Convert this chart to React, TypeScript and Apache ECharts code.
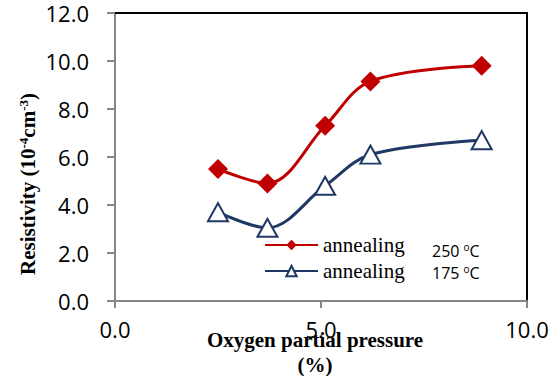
import React, { useEffect, useRef } from "react";
import * as echarts from "echarts";

const oxygenPressure = [2.5, 3.7, 5.1, 6.2, 8.9];
const resistivity250 = [5.5, 4.9, 7.3, 9.15, 9.8];
const resistivity175 = [3.7, 3.05, 4.8, 6.1, 6.7];
const seriesNames = ["annealing 250", "annealing 175"];
const temperatureLabels = ["250 ", "175 "];

const SERIF = '"Liberation Serif", "Times New Roman", serif';
const SANS = '"Open Sans", "Liberation Sans", sans-serif';

export default function App() {
  const ref = useRef<HTMLDivElement>(null);

  useEffect(() => {
    if (!ref.current) return;
    const chart = echarts.init(ref.current, undefined, { renderer: "svg" });
    const toPairs = (ys: number[]) => oxygenPressure.map((x, i) => [x, ys[i]]);

    chart.setOption({
      animation: false,
      backgroundColor: "#ffffff",
      grid: { left: 115, right: 32, top: 13, bottom: 75 },
      xAxis: [
        {
          type: "value",
          min: 0,
          max: 10,
          interval: 5,
          splitLine: { show: false },
          axisLine: { onZero: false, lineStyle: { color: "#868686", width: 2 } },
          axisTick: { show: true, length: 7, lineStyle: { color: "#868686", width: 2 } },
          axisLabel: {
            margin: 17,
            color: "#000",
            fontFamily: SANS,
            fontSize: 22,
            formatter: (v: number) => v.toFixed(1),
          },
        },
        {
          type: "value",
          position: "top",
          min: 0,
          max: 10,
          splitLine: { show: false },
          axisLine: { onZero: false, lineStyle: { color: "#000", width: 2 } },
          axisTick: { show: false },
          axisLabel: { show: false },
        },
      ],
      yAxis: [
        {
          type: "value",
          min: 0,
          max: 12,
          interval: 2,
          splitLine: { show: false },
          axisLine: { show: true, onZero: false, lineStyle: { color: "#868686", width: 2 } },
          axisTick: { show: true, length: 8, lineStyle: { color: "#868686", width: 2 } },
          axisLabel: {
            margin: 26,
            color: "#000",
            fontFamily: SANS,
            fontSize: 22,
            formatter: (v: number) => v.toFixed(1),
          },
        },
        {
          type: "value",
          position: "right",
          min: 0,
          max: 12,
          splitLine: { show: false },
          axisLine: { show: true, onZero: false, lineStyle: { color: "#000", width: 2 } },
          axisTick: { show: false },
          axisLabel: { show: false },
        },
      ],
      legend: {
        orient: "vertical",
        left: 264,
        top: 234,
        padding: 0,
        itemWidth: 53,
        itemHeight: 13,
        itemGap: 4,
        data: seriesNames,
        formatter: () => "annealing",
        textStyle: { fontFamily: SERIF, fontSize: 21, lineHeight: 22, color: "#000" },
      },
      series: [
        {
          name: seriesNames[0],
          type: "line",
          data: toPairs(resistivity250),
          smooth: 0.35,
          symbol: "diamond",
          symbolSize: 20,
          lineStyle: { color: "#C00000", width: 3 },
          itemStyle: { color: "#C00000" },
        },
        {
          name: seriesNames[1],
          type: "line",
          data: toPairs(resistivity175),
          smooth: 0.35,
          symbol: "triangle",
          symbolSize: [20, 18],
          lineStyle: { color: "#1F3864", width: 3 },
          itemStyle: { color: "#ffffff", borderColor: "#1F3864", borderWidth: 2 },
        },
      ],
      graphic: [
        {
          type: "text",
          x: 28,
          y: 184,
          rotation: Math.PI / 2,
          style: {
            text: "{m|Resistivity (10}{s|-4}{m|cm}{s|-3}{m|)}",
            align: "center",
            verticalAlign: "middle",
            rich: {
              m: { fontFamily: SERIF, fontSize: 21, fontWeight: "bold", fill: "#000", lineHeight: 22 },
              s: { fontFamily: SERIF, fontSize: 13, fontWeight: "bold", fill: "#000", verticalAlign: "top" },
            },
          },
        },
        {
          type: "text",
          x: 315,
          y: 352,
          style: {
            text: "Oxygen partial pressure\n(%)",
            align: "center",
            verticalAlign: "middle",
            fontFamily: SERIF,
            fontSize: 21,
            fontWeight: "bold",
            lineHeight: 25,
            fill: "#000",
          },
        },
        ...temperatureLabels.map((t, i) => ({
          type: "text",
          x: 432,
          y: i === 0 ? 251 : 273,
          style: {
            text: `{t|${t}}{s|o}{t|C}`,
            align: "left",
            verticalAlign: "middle",
            rich: {
              t: { fontFamily: SANS, fontSize: 16, fill: "#000", lineHeight: 18 },
              s: { fontFamily: SANS, fontSize: 10, fill: "#000", verticalAlign: "top" },
            },
          },
        })),
      ],
    });

    return () => chart.dispose();
  }, []);

  return (
    <div
      ref={ref}
      style={{ position: "fixed", left: 0, top: 0, width: 559, height: 376, background: "#fff" }}
    />
  );
}
